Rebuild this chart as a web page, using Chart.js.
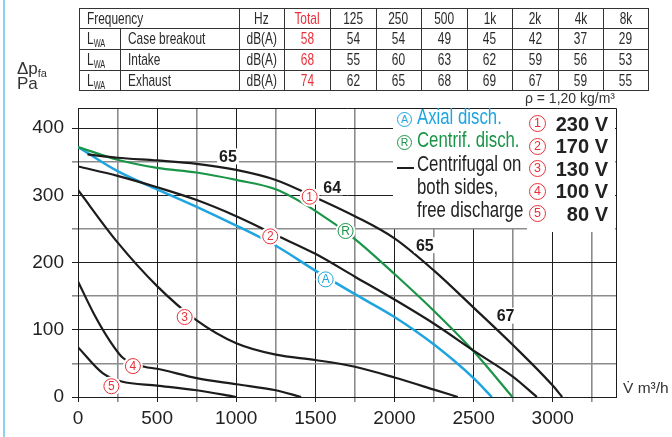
<!DOCTYPE html>
<html>
<head>
<meta charset="utf-8">
<script src="https://cdn.jsdelivr.net/npm/chart.js@4.4.0/dist/chart.umd.min.js"></script>
<style>
  body { margin: 0; width: 672px; height: 437px; position: relative; overflow: hidden; background: #fff;
         font-family: "Liberation Sans", Arial, sans-serif; color: #222; }
  #c { position: absolute; left: 0; top: 0; }
  #edge { position: absolute; left: 3px; top: 0; width: 2px; height: 437px; background: #8fd0f0; }
  table.lw { position: absolute; left: 79px; top: 8px; border-collapse: collapse; table-layout: fixed;
             font-size: 17px; color: #2a2a2a; }
  table.lw td { border: 1px solid #333; padding: 0; text-align: center; line-height: 18px; white-space: nowrap; overflow: hidden; }
  table.lw td.l { text-align: left; padding-left: 7px; }
  table.lw td.t { color: #e8313a; }
  table.lw sub { font-size: 10.5px; vertical-align: -3px; line-height: 0; }
  .n { display: inline-block; transform: scaleX(0.7); transform-origin: center center; }
  td.l .n { transform-origin: left center; }
  .abs { position: absolute; white-space: nowrap; }
  .kbox { position: absolute; background: #fff; }
  .kt { position: absolute; white-space: nowrap; font-size: 21.5px; line-height: 23px; color: #222;
        transform: scaleX(0.78); transform-origin: left center; }
  .kv { position: absolute; white-space: nowrap; font-weight: bold; font-size: 20px; line-height: 22px; color: #222; text-align: right; width: 70px; }
  .ring { position: absolute; box-sizing: border-box; border-radius: 50%; text-align: center; }
</style>
</head>
<body>
<canvas id="c" width="672" height="437"></canvas>
<div id="edge"></div>

<table class="lw">
  <colgroup>
    <col style="width:41px"><col style="width:87px"><col style="width:45px"><col style="width:46px">
    <col style="width:46px"><col style="width:45px"><col style="width:46px"><col style="width:45px">
    <col style="width:46px"><col style="width:45px"><col style="width:45px">
  </colgroup>
  <tbody id="tbody"></tbody>
</table>

<div class="abs" style="left:17px;top:60px;font-size:17px;line-height:18px;color:#333">&Delta;p<span style="font-size:11px;vertical-align:-3px">fa</span></div>
<div class="abs" style="left:17px;top:75px;font-size:17px;line-height:18px;color:#333">Pa</div>
<div class="abs" style="right:57px;top:90px;font-size:14px;line-height:16px;color:#333">&rho; = 1,20 kg/m&sup3;</div>
<div class="abs" style="left:623px;top:379px;font-size:15.5px;line-height:18px;color:#333">V&#775; m&sup3;/h</div>

<div id="key"></div>

<script>
// sound table
const bands = ['125', '250', '500', '1k', '2k', '4k', '8k'];
const rowNames = ['Case breakout', 'Intake', 'Exhaust'];
const rowTotals = [58, 68, 74];
const caseBreakout = [54, 54, 49, 45, 42, 37, 29];
const intake = [55, 60, 63, 62, 59, 56, 53];
const exhaust = [62, 65, 68, 69, 67, 59, 55];

// fan curves, flow in m3/h and pressure in Pa
const v230Flow = [60, 250, 500, 750, 1000, 1250, 1500, 1750, 2000, 2250, 2500, 2750, 3000, 3060];
const v230Pa   = [361, 356, 352, 347, 338, 323, 297, 269, 236, 188, 133, 77, 17, 0];
const v170Flow = [0, 250, 500, 750, 1000, 1250, 1500, 1750, 2000, 2250, 2500, 2750, 2900];
const v170Pa   = [343, 329, 312, 293, 269, 241, 213, 179, 145, 109, 69, 30, 0];
const v130Flow = [0, 250, 500, 750, 1000, 1250, 1500, 1750, 2000, 2250, 2400];
const v130Pa   = [308, 230, 165, 114, 80, 63, 55, 45, 29, 11, 0];
const v100Flow = [0, 100, 200, 285, 420, 500, 750, 1000, 1250, 1410];
const v100Pa   = [172, 124, 84, 58, 45, 42, 28, 19, 10, 0];
const v80Flow  = [0, 158, 275, 500, 750, 1000];
const v80Pa    = [74, 35, 23, 17, 10, 0];
const axialFlow = [0, 250, 500, 750, 1000, 1250, 1500, 1750, 2000, 2250, 2500, 2615];
const axialPa   = [372, 336, 309, 283, 255, 225, 188, 153, 119, 78, 28, 0];
const centrifFlow = [0, 250, 500, 750, 1000, 1250, 1500, 1750, 2000, 2250, 2500, 2745];
const centrifPa   = [372, 353, 341, 334, 323, 309, 277, 235, 183, 128, 68, 0];

// tags on the curves
const voltTags = ['1', '2', '3', '4', '5'];
const voltTagFlow = [1464, 1215, 674, 347, 211];
const voltTagPa = [298, 239, 119, 46, 16];
const dischTags = ['A', 'R'];
const dischTagFlow = [1565, 1691];
const dischTagPa = [175, 247];
const levelTags = ['65', '64', '65', '67'];
const levelFlow = [948, 1606, 2192, 2702];
const levelPa = [358, 312, 226, 121];

// legend
const voltNames = ['230 V', '170 V', '130 V', '100 V', '80 V'];
const dischNames = ['Axial disch.', 'Centrif. disch.'];
const bothSidesText = ['Centrifugal on', 'both sides,', 'free discharge'];

const BLACK = '#1c1c1c', BLUE = '#1ea5e0', GREEN = '#1a9548', RED = '#e8313a';

// build table
const n = t => '<span class="n">' + t + '</span>';
const tb = document.getElementById('tbody');
let html = '<tr><td class="l" colspan="2" style="height:19px">' + n('Frequency') + '</td><td>' + n('Hz') + '</td><td class="t">' + n('Total') + '</td>' +
  bands.map(b => '<td>' + n(b) + '</td>').join('') + '</tr>';
[caseBreakout, intake, exhaust].forEach((vals, i) => {
  html += '<tr><td class="l" style="height:' + (i == 2 ? 19 : 20) + 'px">' + n('L<sub>WA</sub>') + '</td><td class="l">' + n(rowNames[i]) +
    '</td><td>' + n('dB(A)') + '</td><td class="t">' + n(rowTotals[i]) + '</td>' + vals.map(v => '<td>' + n(v) + '</td>').join('') + '</tr>';
});
tb.innerHTML = html;

// build key box
const key = document.getElementById('key');
let k = '<div class="kbox" style="left:393px;top:109px;width:134px;height:119px"></div>' +
        '<div class="kbox" style="left:527px;top:109px;width:88px;height:123px"></div>';
dischNames.forEach((name, i) => {
  const col = i == 0 ? BLUE : GREEN;
  const top = 106 + 23.3 * i;
  k += '<div class="ring" style="left:397px;top:' + (top + 6) + 'px;width:15px;height:15px;border:1px solid ' + col +
       ';color:' + col + ';font-size:10.5px;line-height:13px">' + dischTags[i] + '</div>';
  k += '<div class="kt" style="left:417px;top:' + top + 'px;color:' + col + '">' + name + '</div>';
});
k += '<div class="abs" style="left:397px;top:167px;width:17px;height:2px;background:#1c1c1c"></div>';
bothSidesText.forEach((t, i) => {
  k += '<div class="kt" style="left:417px;top:' + (152.6 + 23.3 * i) + 'px">' + t + '</div>';
});
voltNames.forEach((t, i) => {
  const base = 130.7 + 22.5 * i;
  k += '<div class="ring" style="left:529px;top:' + (base - 15.5) + 'px;width:17px;height:17px;border:1.2px solid ' + RED +
       ';color:' + RED + ';font-size:12.5px;line-height:15px">' + voltTags[i] + '</div>';
  k += '<div class="kv" style="left:538px;top:' + (base - 18) + 'px">' + t + '</div>';
});
key.innerHTML = k;

function curve(flow, pa) {
  return flow.map((f, i) => ({x: f, y: pa[i]}));
}

// frame, number tags and circled tags
const tagPlugin = {
  id: 'tags',
  beforeDatasetsDraw(chart) {
    const {ctx, chartArea: a} = chart;
    ctx.save();
    ctx.strokeStyle = BLACK;
    ctx.lineWidth = 1;
    ctx.beginPath();
    ctx.moveTo(a.left, Math.round(a.top) + 0.5);
    ctx.lineTo(Math.round(a.right) + 0.5, Math.round(a.top) + 0.5);
    ctx.lineTo(Math.round(a.right) + 0.5, a.bottom);
    ctx.stroke();
    ctx.restore();
  },
  afterDatasetsDraw(chart) {
    const {ctx, scales: {x, y}} = chart;
    ctx.save();
    ctx.textAlign = 'center';
    ctx.textBaseline = 'middle';
    ctx.font = 'bold 16px "Liberation Sans", Arial, sans-serif';
    levelTags.forEach((t, i) => {
      const px = x.getPixelForValue(levelFlow[i]);
      const py = y.getPixelForValue(levelPa[i]);
      const w = ctx.measureText(t).width;
      ctx.fillStyle = '#fff';
      ctx.fillRect(px - w / 2 - 2, py - 8, w + 4, 16);
      ctx.fillStyle = BLACK;
      ctx.fillText(t, px, py + 1);
    });
    const ring = (t, fx, fy, col) => {
      const px = x.getPixelForValue(fx);
      const py = y.getPixelForValue(fy);
      ctx.fillStyle = '#fff';
      ctx.beginPath(); ctx.arc(px, py, 10, 0, Math.PI * 2); ctx.fill();
      ctx.strokeStyle = col;
      ctx.lineWidth = 1;
      ctx.beginPath(); ctx.arc(px, py, 7.5, 0, Math.PI * 2); ctx.stroke();
      ctx.fillStyle = col;
      ctx.font = '12px "Liberation Sans", Arial, sans-serif';
      ctx.fillText(t, px, py + 0.5);
    };
    voltTags.forEach((t, i) => ring(t, voltTagFlow[i], voltTagPa[i], RED));
    dischTags.forEach((t, i) => ring(t, dischTagFlow[i], dischTagPa[i], i == 0 ? BLUE : GREEN));
    ctx.restore();
  }
};

const tickFont = {family: '"Liberation Sans", Arial, sans-serif', size: 19};

new Chart(document.getElementById('c'), {
  type: 'line',
  data: {
    datasets: [
      {data: curve(v230Flow, v230Pa), borderColor: BLACK, borderWidth: 2.2},
      {data: curve(v170Flow, v170Pa), borderColor: BLACK, borderWidth: 2.2},
      {data: curve(v130Flow, v130Pa), borderColor: BLACK, borderWidth: 2.2},
      {data: curve(v100Flow, v100Pa), borderColor: BLACK, borderWidth: 2.2},
      {data: curve(v80Flow, v80Pa), borderColor: BLACK, borderWidth: 2.2},
      {data: curve(centrifFlow, centrifPa), borderColor: GREEN, borderWidth: 2.2},
      {data: curve(axialFlow, axialPa), borderColor: BLUE, borderWidth: 2.5}
    ]
  },
  options: {
    responsive: false,
    animation: false,
    layout: {padding: {left: 0, right: 56, top: 108, bottom: 0}},
    plugins: {legend: {display: false}, tooltip: {enabled: false}},
    elements: {
      point: {radius: 0},
      line: {cubicInterpolationMode: 'monotone', fill: false}
    },
    scales: {
      x: {
        type: 'linear', min: 0, max: 3400,
        afterFit(s) { s.height = 40; },
        ticks: {
          stepSize: 250, autoSkip: false, maxRotation: 0, includeBounds: false,
          callback: v => v % 500 === 0 ? String(v) : '',
          color: '#222', font: tickFont, padding: 5
        },
        grid: {
          color: c => c.tick && c.tick.value % 500 === 0 ? '#1e1e1e' : '#8c8c8c',
          lineWidth: c => c.tick && c.tick.value % 500 === 0 ? 1 : 1.6,
          tickLength: 5
        },
        border: {color: '#1e1e1e', width: 1}
      },
      y: {
        min: 0, max: 430,
        afterFit(s) { s.width = 78; },
        ticks: {
          stepSize: 50, includeBounds: false,
          callback: v => v % 100 === 0 ? String(v) : '',
          color: '#222', font: tickFont, padding: 8
        },
        grid: {
          color: c => c.tick && c.tick.value % 100 === 0 ? '#1e1e1e' : '#8c8c8c',
          lineWidth: c => c.tick && c.tick.value % 100 === 0 ? 1 : 1.6,
          tickLength: 6
        },
        border: {color: '#1e1e1e', width: 1}
      }
    }
  },
  plugins: [tagPlugin]
});
</script>
</body>
</html>
